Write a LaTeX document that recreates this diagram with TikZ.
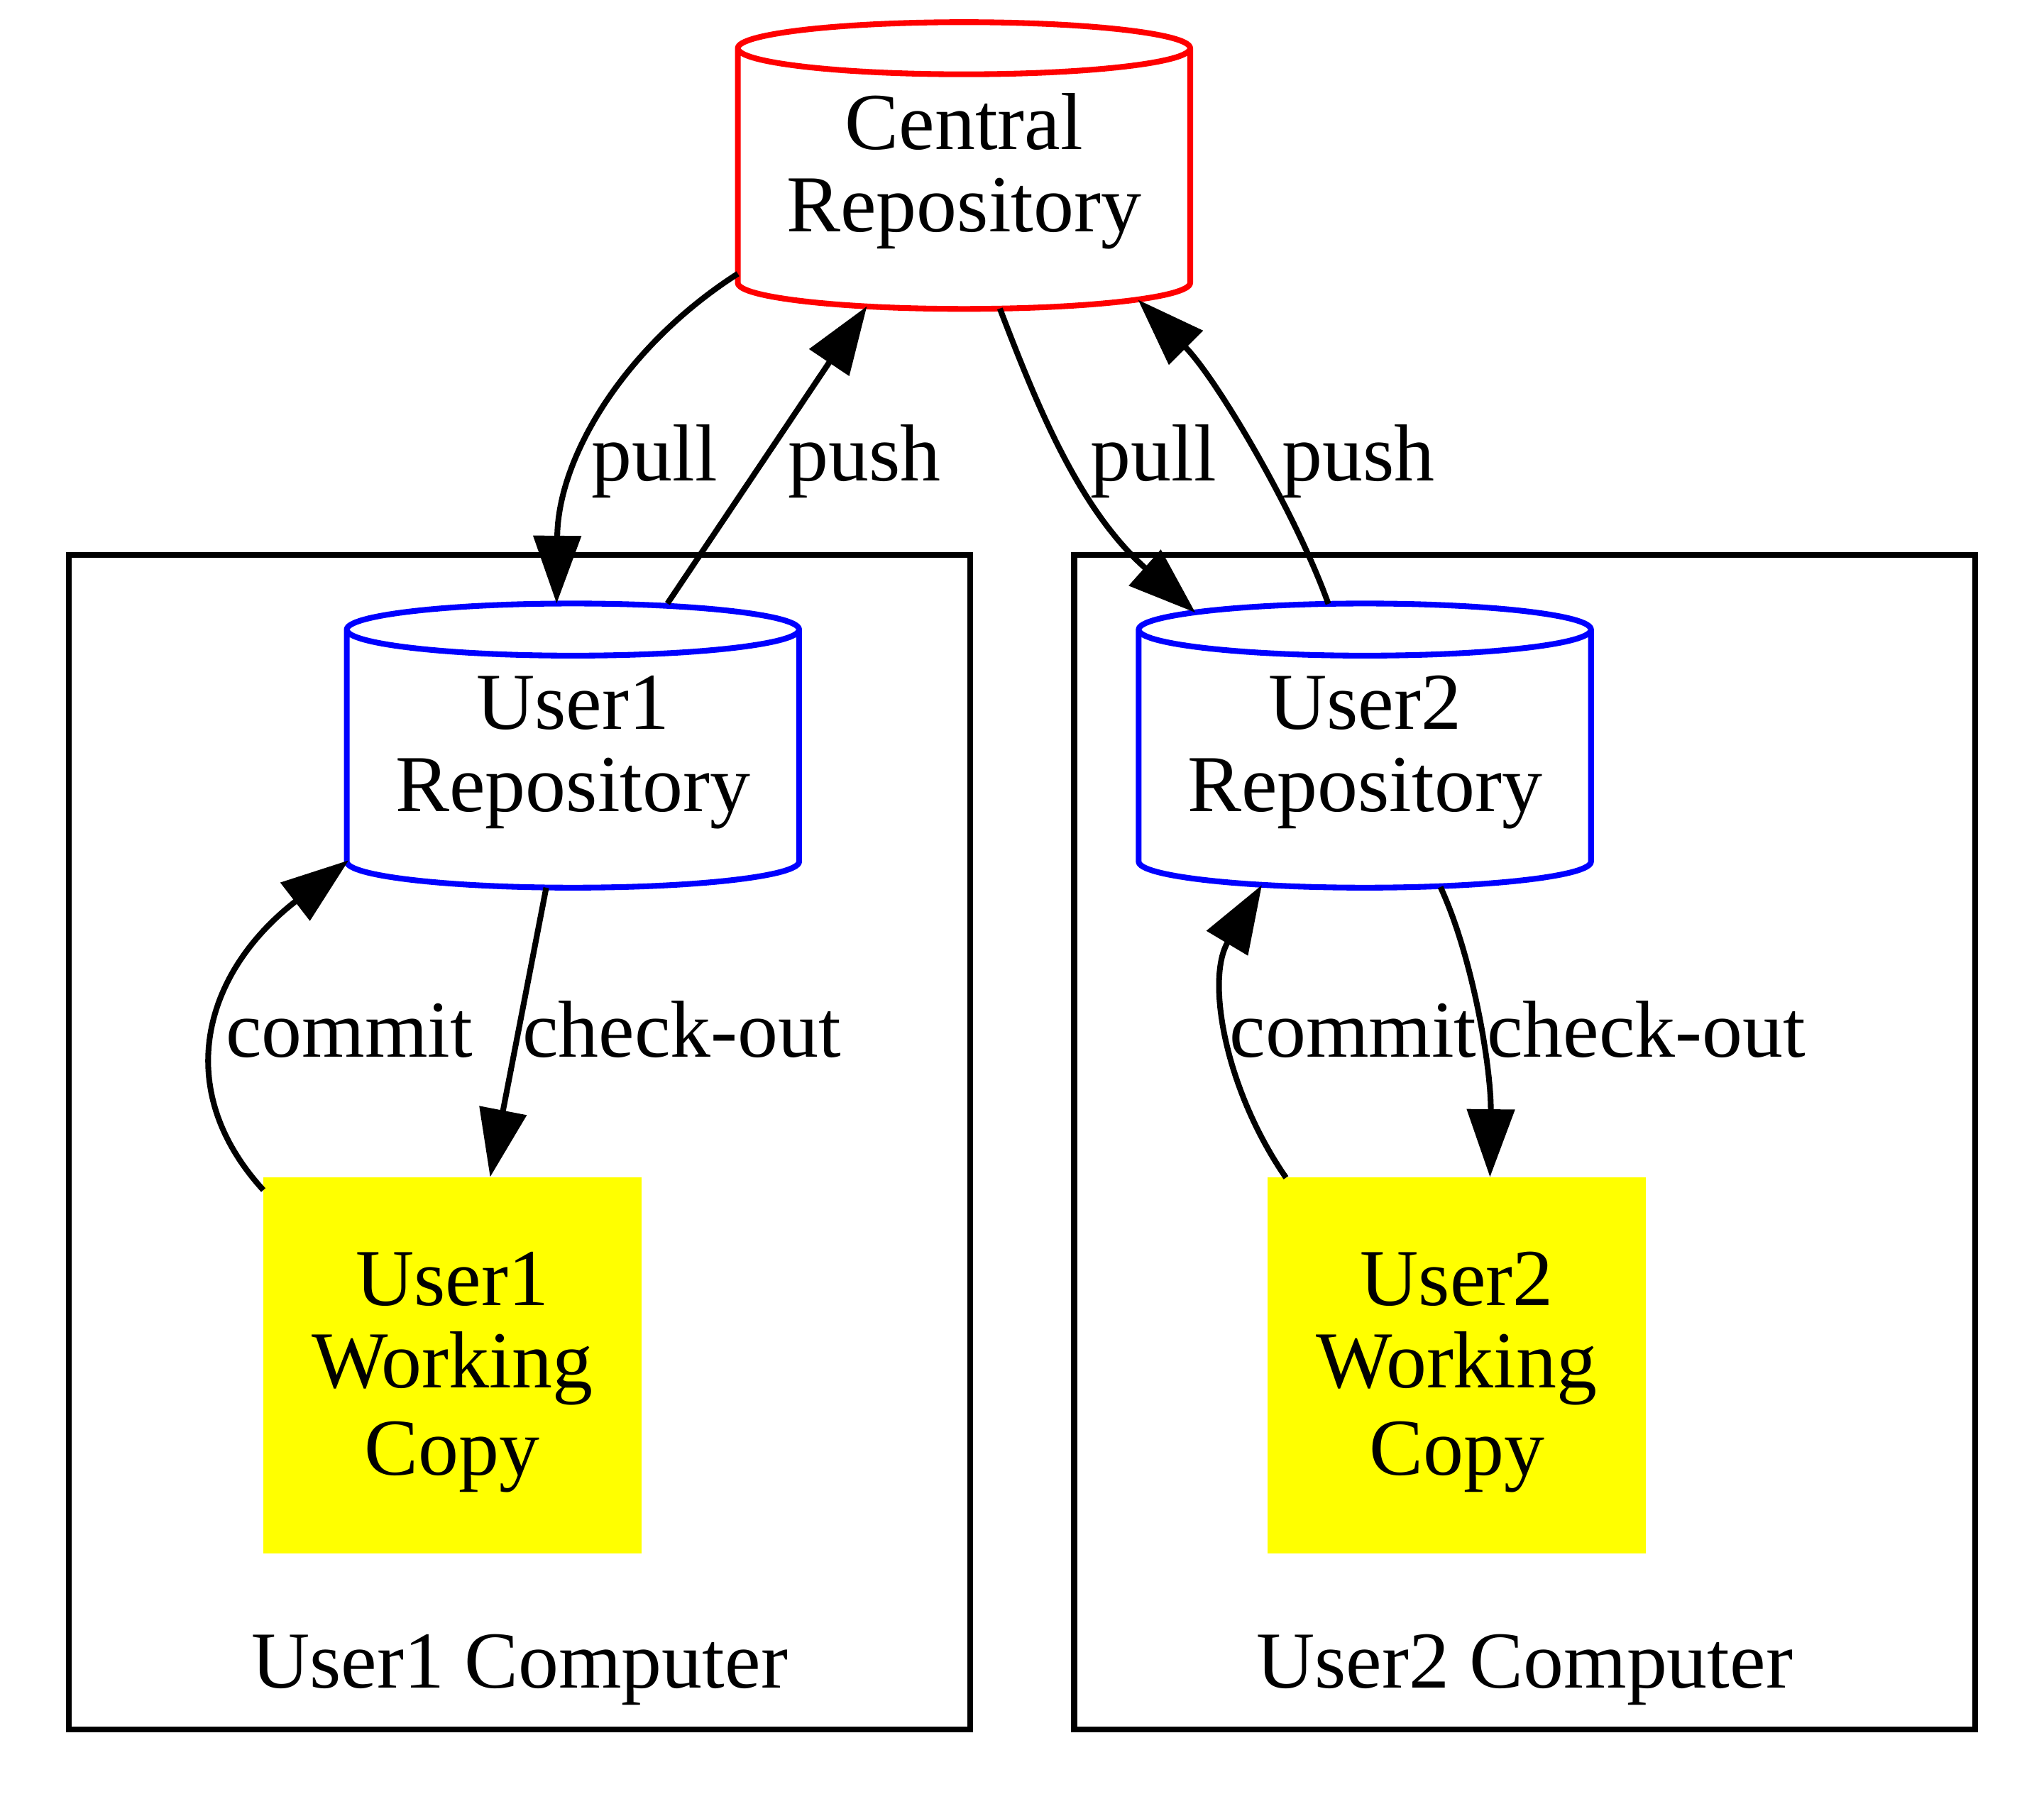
\documentclass[tikz,border=0pt]{standalone}
\usepackage{fontspec}
\setmainfont{Liberation Serif}
\usetikzlibrary{arrows.meta,calc}
\definecolor{gvred}{RGB}{255,0,0}
\definecolor{gvblue}{RGB}{0,0,255}
\definecolor{gvyellow}{RGB}{255,255,0}
\newcommand\gvs{\rule[-5.75pt]{0pt}{31.5pt}}
\newcommand\gvcyl[2]{%
  \draw[#2, line width=2.2pt, line join=round]
    ([yshift=-10pt]#1.north west) -- ([yshift=10pt]#1.south west)
    arc[start angle=180,end angle=360,x radius=86.75pt,y radius=10pt]
    -- ([yshift=-10pt]#1.north east)
    arc[start angle=0,end angle=180,x radius=86.75pt,y radius=10pt]
    arc[start angle=180,end angle=360,x radius=86.75pt,y radius=10pt];}
\begin{document}
\begin{tikzpicture}[x=0.5pt,y=-0.5pt,
  every node/.style={font=\fontsize{31}{31.5}\selectfont, inner sep=0pt, outer sep=0pt},
  cylnode/.style={minimum width=173.5pt, align=center},
  wcnode/.style={fill=gvyellow, minimum width=145pt, minimum height=144.5pt, align=center},
  cluster/.style={draw=black, line width=2.2pt, minimum width=345.5pt, minimum height=450.5pt},
  lbl/.style={anchor=base},
  edge/.style={draw=black, line width=2.2pt, -{Triangle[length=26pt,width=18pt]}},
]
\useasboundingbox (0,0) rectangle (1568,1380);

% clusters
\node[cluster] (cl1) at (398.5,876.5) {};
\node[cluster] (cl2) at (1169.5,876.5) {};
\node[lbl] (cl1lbl) at (398.5,1295) {User1 Computer};
\node[lbl] (cl2lbl) at (1169.5,1295) {User2 Computer};

% nodes
\node[cylnode, minimum height=110pt] (cen) at (739.5,127) {\gvs Central\\\gvs Repository};
\node[cylnode, minimum height=109pt] (u1r) at (439.5,572) {\gvs User1\\\gvs Repository};
\node[cylnode, minimum height=109pt] (u2r) at (1047,572) {\gvs User2\\\gvs Repository};
\gvcyl{cen}{gvred}
\gvcyl{u1r}{gvblue}
\gvcyl{u2r}{gvblue}
\node[wcnode] (wc1) at (347,1047.5) {\gvs User1\\\gvs Working\\\gvs Copy};
\node[wcnode] (wc2) at (1117.5,1047.5) {\gvs User2\\\gvs Working\\\gvs Copy};

% edges
\draw[edge] ($(cen)+(-173.5,83)$) .. controls +(-86,55) and +(1,-113) .. ($(u1r)+(-12.5,-109)$);
\draw[edge] ($(u1r)+(72.5,-109)$) -- ($(cen)+(-74.5,108)$);
\draw[edge] ($(cen)+(27.5,109.7)$) .. controls +(28,73) and +(-90,-80) .. ($(u2r)+(-130,-102)$);
\draw[edge] ($(u2r)+(-28,-108.7)$) .. controls +(-25,-70) and +(60,60) .. ($(cen)+(133.5,103)$);
\draw[edge] ($(wc1)+(-145,-134.5)$) .. controls +(-72,-79) and +(-110,85) .. ($(u1r)+(-172,88)$);
\draw[edge] ($(u1r)+(-20.5,109)$) -- ($(wc1)+(29,-144.5)$);
\draw[edge] ($(wc2)+(-131,-144)$) .. controls +(-47,-68) and +(-43,72) .. ($(u2r)+(-79,107)$);
\draw[edge] ($(u2r)+(58,108.5)$) .. controls +(25,54) and +(1,-83) .. ($(wc2)+(25.5,-144.5)$);

% edge labels
\node[lbl] (l1) at (502,369) {pull};
\node[lbl] (l2) at (663,369) {push};
\node[lbl] (l3) at (885,369) {pull};
\node[lbl] (l4) at (1042,369) {push};
\node[lbl] (l5) at (268,811) {commit};
\node[lbl] (l6) at (523,811) {check-out};
\node[lbl] (l7) at (1038,811) {commit};
\node[lbl] (l8) at (1263,811) {check-out};
\end{tikzpicture}
\end{document}
